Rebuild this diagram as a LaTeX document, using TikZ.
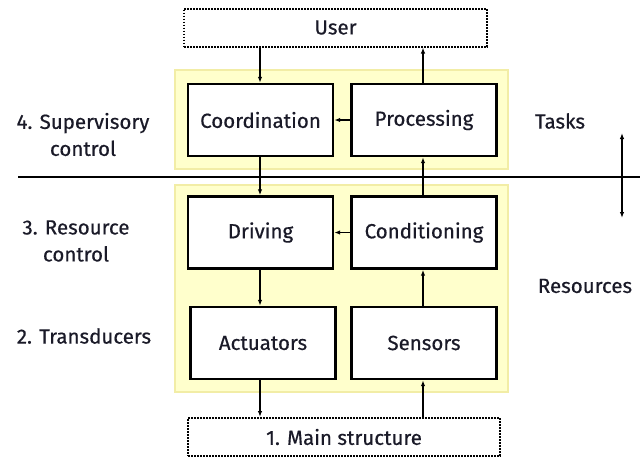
\documentclass[tikz,border=0pt]{standalone}
\usepackage{fontspec}
\setmainfont{Fira Sans}[FakeBold=0.5]
\usetikzlibrary{arrows.meta}
\definecolor{panelfill}{HTML}{FFFFCC}
\definecolor{panelline}{HTML}{F2EDA6}
\definecolor{ink}{HTML}{1A1A28}
\begin{document}
\begin{tikzpicture}[x=1pt,y=-1pt,
  every node/.style={font=\fontsize{20.5}{27}\selectfont, text=ink},
  panel/.style={fill=panelfill, draw=panelline, line width=1.5pt},
  blockbox/.style={draw=black, line width=2.4pt, fill=white, minimum width=145pt, minimum height=72pt, inner sep=0pt},
  extbox/.style={draw=black, line width=2pt, dash pattern=on 1.6pt off 1.4pt, minimum height=38pt, inner sep=0pt},
  conn/.style={draw=black, line width=1.4pt, -{Latex[length=6pt,width=4.5pt]}},
  sidelabel/.style={align=center, inner sep=0pt}]
\useasboundingbox (0,0) rectangle (640,456);
\fill[white] (0,0) rectangle (640,456);

% yellow layer panels
\draw[panel] (175,70) rectangle (508,169);
\draw[panel] (175,185) rectangle (508,392);

% separating line between tasks and resources
\draw[line width=1.3pt] (18,177) -- (640,177);

% external boxes
\node[extbox, minimum width=303pt] (user) at (335.5,27.5) {User};
\node[extbox, minimum width=312pt] (main) at (344,437) {1. Main structure};

% function blocks
\node[blockbox] (coord) at (260.5,120) {Coordination};
\node[blockbox] (proc)  at (424,120) {Processing};
\node[blockbox] (drive) at (260.5,232.5) {Driving};
\node[blockbox] (cond)  at (424,232.5) {Conditioning};
\node[blockbox] (act)   at (263,343) {Actuators};
\node[blockbox] (sens)  at (424,343) {Sensors};

% signal flow
\draw[conn] (user.south -| 260,0) -- (coord.north -| 260,0);
\draw[conn] (proc.north -| 423,0) -- (user.south -| 423,0);
\draw[conn] (proc.west) -- (coord.east);
\draw[conn] (coord.south -| 260,0) -- (drive.north -| 260,0);
\draw[conn] (cond.north -| 423,0) -- (proc.south -| 423,0);
\draw[conn] (cond.west) -- (drive.east);
\draw[conn] (drive.south -| 260,0) -- (act.north -| 260,0);
\draw[conn] (sens.north -| 423,0) -- (cond.south -| 423,0);
\draw[conn] (act.south -| 260,0) -- (main.north -| 260,0);
\draw[conn] (main.north -| 423,0) -- (sens.south -| 423,0);

% level labels
\node[sidelabel] (l4) at (83,134.5) {4. Supervisory\\control};
\node[sidelabel] (l3) at (76,241) {3. Resource\\control};
\node[sidelabel] (l2) at (84,336) {2. Transducers};
\node[sidelabel] (tasks) at (560,121) {Tasks};
\node[sidelabel] (res) at (585,286) {Resources};

% tasks/resources double arrow
\coordinate (da) at (622,133);
\coordinate (db) at (622,218);
\draw[line width=1.4pt, {Latex[length=6pt,width=4.5pt]}-{Latex[length=6pt,width=4.5pt]}] (da) -- (db);
\end{tikzpicture}
\end{document}
